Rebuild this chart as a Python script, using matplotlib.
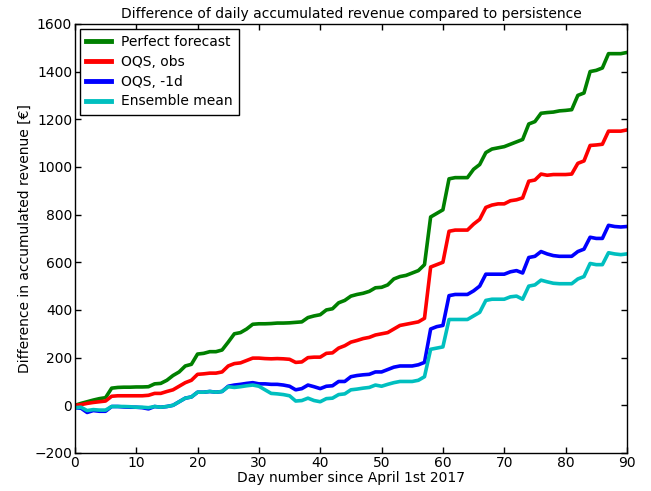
import matplotlib
matplotlib.use("Agg")
import matplotlib.pyplot as plt
import numpy as np

days = list(range(91))

perfect = [0, 8, 15, 22, 28, 32, 72, 75, 76, 76, 77, 77, 78, 90, 92, 105, 125, 140, 165, 172,
           215, 218, 225, 225, 232, 265, 300, 305, 320, 340, 342, 342, 343, 345, 345, 346, 348, 350, 368, 375,
           380, 400, 405, 430, 440, 458, 465, 470, 478, 493, 495, 505, 530, 540, 545, 555, 565, 590, 790, 805,
           820, 950, 955, 955, 955, 990, 1010, 1060, 1075, 1080, 1085, 1095, 1105, 1115, 1180, 1190, 1225, 1228, 1230, 1235,
           1237, 1240, 1300, 1310, 1400, 1405, 1415, 1475, 1475, 1475, 1480]

oqs_obs = [0, 3, 8, 12, 15, 18, 38, 40, 40, 40, 40, 40, 42, 50, 50, 58, 65, 80, 95, 105,
           130, 132, 135, 135, 140, 165, 175, 178, 188, 198, 198, 196, 195, 196, 195, 193, 180, 182, 200, 202,
           202, 218, 220, 240, 250, 265, 272, 280, 285, 295, 300, 305, 320, 335, 340, 345, 350, 365, 580, 590,
           600, 730, 735, 735, 735, 760, 780, 830, 840, 845, 845, 858, 862, 870, 940, 945, 970, 965, 968, 968,
           968, 970, 1015, 1025, 1090, 1092, 1095, 1150, 1150, 1150, 1155]

oqs_1d = [-10, -12, -30, -22, -25, -25, -5, -5, -7, -8, -8, -10, -15, -5, -8, -5, 0, 15, 30, 35,
          55, 55, 58, 55, 58, 80, 85, 88, 92, 95, 90, 90, 88, 88, 85, 80, 65, 70, 85, 78,
          70, 80, 82, 100, 100, 120, 125, 128, 130, 140, 140, 150, 160, 165, 165, 165, 170, 180, 320, 330,
          335, 460, 465, 465, 465, 480, 500, 550, 550, 550, 550, 560, 565, 555, 620, 625, 645, 635, 628, 625,
          625, 625, 645, 655, 705, 700, 700, 755, 750, 748, 750]

ens_mean = [-10, -8, -22, -18, -20, -20, -5, -5, -5, -6, -8, -8, -10, -5, -8, -5, 0, 15, 30, 35,
            55, 55, 58, 55, 58, 78, 75, 78, 82, 85, 80, 65, 50, 48, 45, 40, 18, 20, 30, 20,
            15, 28, 30, 45, 48, 65, 68, 72, 75, 85, 80, 88, 95, 100, 100, 100, 105, 120, 235, 240,
            245, 360, 360, 360, 360, 375, 390, 440, 445, 445, 445, 455, 458, 445, 500, 505, 525, 518, 512, 510,
            510, 510, 530, 540, 595, 590, 590, 640, 635, 632, 635]

series = [
    ("Perfect forecast", perfect, "g"),
    ("OQS, obs", oqs_obs, "r"),
    ("OQS, -1d", oqs_1d, "b"),
    ("Ensemble mean", ens_mean, "c"),
]

plt.rcParams['font.family'] = ['DejaVu Sans']
plt.rcParams['font.size'] = 10

fig = plt.figure(figsize=(6.51, 4.91), dpi=100)
ax = fig.add_axes([0.115, 0.0774, 0.848, 0.874])

for label, vals, col in series:
    ax.plot(days, vals, color=col, lw=2.6, label=label)

ax.set_xlim(0, 90)
ax.set_ylim(-200, 1600)
ax.set_xticks(np.arange(0, 91, 10))
ax.set_yticks(np.arange(-200, 1601, 200))
ax.tick_params(direction='in', top=True, right=True, length=4, width=1, labelsize=10, pad=2)
for sp in ax.spines.values():
    sp.set_linewidth(1.0)
ax.set_title("Difference of daily accumulated revenue compared to persistence", fontsize=10, pad=4)
ax.set_xlabel("Day number since April 1st 2017", fontsize=10, labelpad=1)
ax.set_ylabel("Difference in accumulated revenue [€]", fontsize=10, labelpad=2)

leg = ax.legend(loc='upper left', fancybox=False, framealpha=1, edgecolor='black',
                fontsize=10, handlelength=1.8, handletextpad=0.7, borderpad=0.45,
                labelspacing=0.42, borderaxespad=0.35)
leg.get_frame().set_linewidth(1.0)
for l in leg.get_lines():
    l.set_linewidth(3.5)

fig.savefig("out.png", dpi=100, facecolor='white')
